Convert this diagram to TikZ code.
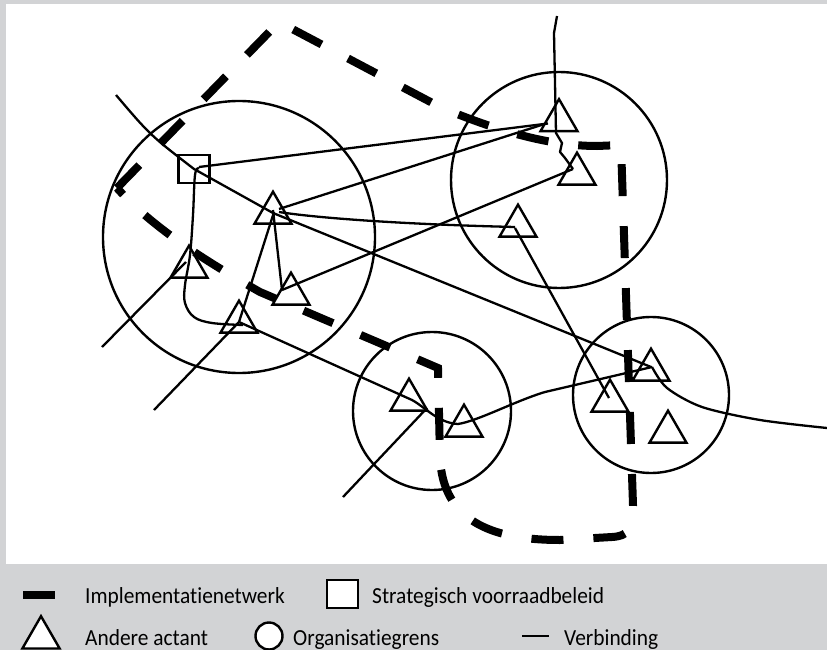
\documentclass[tikz,border=0pt]{standalone}
\usepackage{fontspec}
\setmainfont{Carlito}[Ligatures=NoCommon]
\usetikzlibrary{shapes.geometric}
\definecolor{panelgrey}{RGB}{210,211,213}
\begin{document}
\begin{tikzpicture}[x=1pt,y=-1pt,
  orgcircle/.style={circle, draw, line width=2.4pt, inner sep=0pt, outer sep=0pt},
  actant/.style={regular polygon, regular polygon sides=3, draw, line width=2.4pt,
    inner sep=0pt, outer sep=0pt, minimum size=42.7pt},
  policybox/.style={rectangle, draw, line width=2.5pt, inner sep=0pt, outer sep=0pt,
    minimum width=31pt, minimum height=28pt},
  link/.style={line width=2.3pt, line join=round},
  netw/.style={line width=8pt, dash pattern=on 32pt off 30pt, dash phase=0pt},
  lbl/.style={anchor=base west, inner sep=0pt, xscale=0.93,
    font=\fontsize{23}{28}\selectfont}
]
\useasboundingbox (0,0) rectangle (827,650);
% panel and drawing area
\fill[panelgrey] (0,0) rectangle (827,650);
\fill[white] (6,4) rectangle (827,564);

% organisation boundaries
\node[orgcircle, minimum size=272pt] (c1) at (239,237) {};
\node[orgcircle, minimum size=216pt] (c2) at (559,180) {};
\node[orgcircle, minimum size=158pt] (c3) at (432,411) {};
\node[orgcircle, minimum size=156pt] (c4) at (651,395) {};

% actants
\node[actant] (t1) at (559,120.5) {};
\node[actant] (t2) at (577,174) {};
\node[actant] (t3) at (518,226) {};
\node[actant] (t4) at (273,213) {};
\node[actant] (t5) at (189,267) {};
\node[actant] (t6) at (291,294) {};
\node[actant] (t7) at (239,322) {};
\node[actant] (t8) at (409,400) {};
\node[actant] (t9) at (464,426) {};
\node[actant] (t10) at (651,370) {};
\node[actant] (t11) at (610,401) {};
\node[actant] (t12) at (668,432) {};

% strategic stock policy
\node[policybox] (sq) at (194,169) {};

% loose ends of connections
\coordinate (e1) at (116,95);
\coordinate (e7) at (154,410);
\coordinate (e8) at (102,347);
\coordinate (e11) at (827,428);
\coordinate (e13) at (343,497);
\coordinate (e14) at (557,16);

% connections
\draw[link] (e1) .. controls (150,135) .. (sq.center) -- (t4.center) -- ([shift={(0,-3)}]t10.center);
\draw[link] ([shift={(5,-2)}]sq.center) -- ([shift={(-11,3)}]t1.center);
\draw[link] ([shift={(6,-4)}]t4.center) -- ([shift={(-16,4)}]t1.center);
\draw[link] ([shift={(6,-1)}]t4.center) .. controls (310,217) and (390,224) .. ([shift={(-3,1)}]t3.center);
\draw[link] ([shift={(-9,-4)}]t6.center) -- ([shift={(-4,-5)}]t2.center);
\draw[link] ([shift={(0,-3)}]t4.center) -- ([shift={(-9,-4)}]t6.center);
\draw[link] (e7) -- (t7.center) -- ([shift={(1,-1)}]t4.center);
\draw[link] ([shift={(-3,-5)}]t5.center) -- (e8);
\draw[link] plot[smooth, tension=0.6] coordinates {([shift={(5,-1)}]sq.center) (195,175) (193,215) (190,255) (185,285) (185,303) (194,317) (212,323) ([shift={(4,3)}]t7.center)};
\draw[link] (t7.center) -- ([shift={(3,0)}]t8.center) .. controls (425,407) and (438,423) .. ([shift={(-6,-2)}]t9.center) .. controls (478,421) and (515,401) .. (545,392) -- ([shift={(1,-3)}]t10.center);
\draw[link] plot[smooth, tension=0.5] coordinates {([shift={(1,-3)}]t10.center) (667,388) (702,407) (760,420) (e11)};
\draw[link] ([shift={(-3,2)}]t3.center) -- ([shift={(-1,-3)}]t11.center);
\draw[link] (e13) -- ([shift={(18,8)}]t8.center);
\draw[link] (e14) -- (554,33) -- (556,133) -- (562,143) -- (560,152) -- (565,158) -- ([shift={(-4,-5)}]t2.center);

% implementation network
\draw[netw] (117,188) -- (279,22) -- (440,107) .. controls (490,128) and (545,146) .. (597,146) -- (621,145)
  -- (633,505) .. controls (633,530) and (628,536) .. (612,537) -- (560,540)
  .. controls (490,540) and (443,520) .. (440,458) -- (438,368) -- (260,292)
  .. controls (200,258) and (150,225) .. cycle;

% legend
\node[fill=black, inner sep=0pt, minimum width=32pt, minimum height=8pt] (k1) at (39,595) {};
\node[lbl] (l1) at (85,603) {Implementatienetwerk};
\node[policybox, fill=white] (k2) at (342.5,594) {};
\node[lbl] (l2) at (372,603) {Strategisch voorraadbeleid};
\node[actant, fill=white, minimum size=43pt] (k3) at (41,637.7) {};
\node[lbl] (l3) at (85,645) {Andere actant};
\node[orgcircle, fill=white, minimum size=27pt] (k4) at (269,636) {};
\node[lbl] (l4) at (293,645) {Organisatiegrens};
\coordinate (k5a) at (522,636);
\coordinate (k5b) at (549,636);
\draw[link] (k5a) -- (k5b);
\node[lbl] (l5) at (564,645) {Verbinding};
\end{tikzpicture}
\end{document}
